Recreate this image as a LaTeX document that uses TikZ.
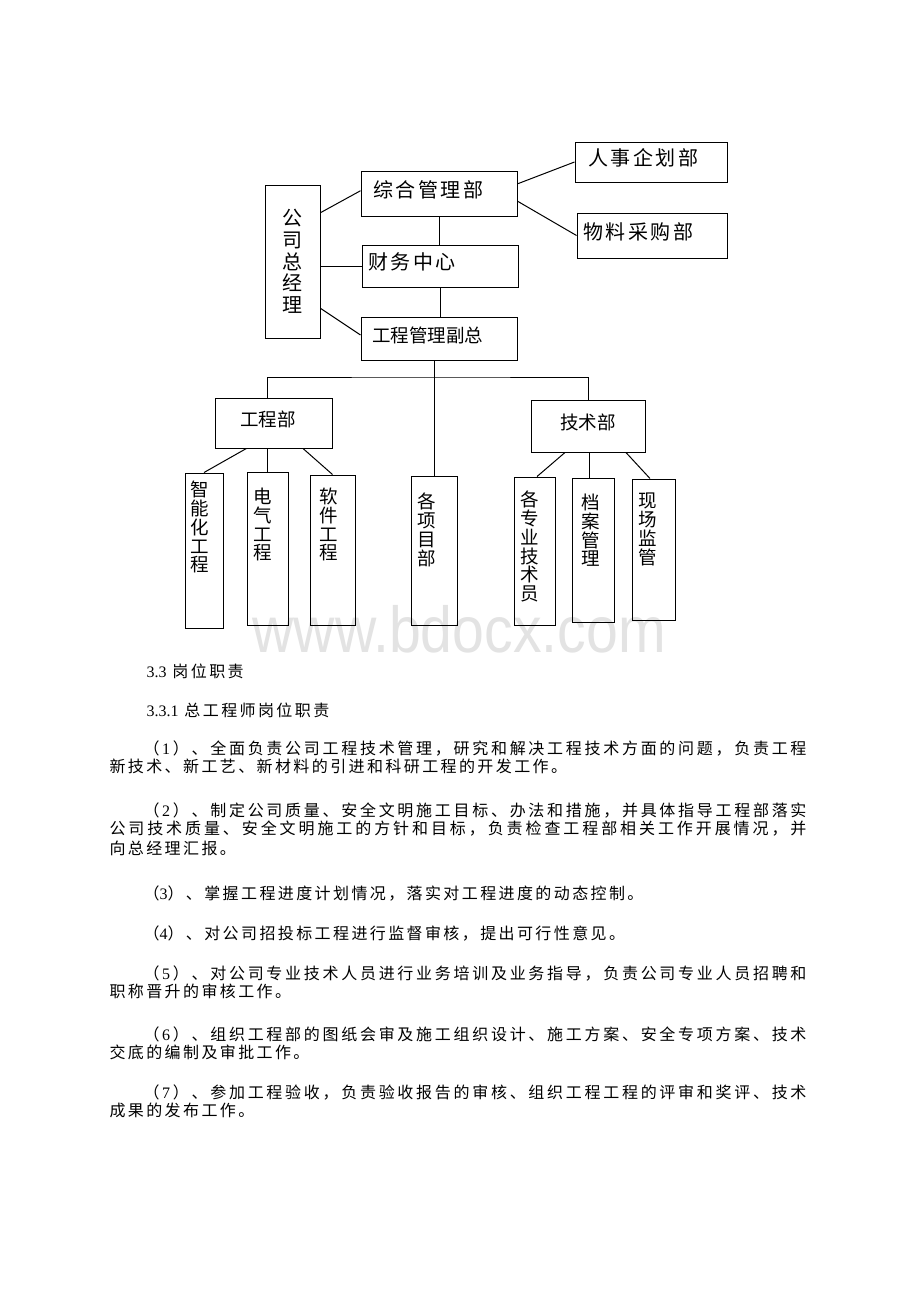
\documentclass[tikz,border=0pt]{standalone}
\usepackage{graphicx}
\usepackage{fontspec}
\setmainfont{Liberation Serif}
\newfontfamily\cjk{Noto Sans CJK SC}
\newfontfamily\cjkwide[LetterSpace=12.5]{Noto Sans CJK SC}
\newfontfamily\cjkbody[LetterSpace=15]{Noto Sans CJK SC}
\newfontfamily\wmfont{Liberation Sans}
\usetikzlibrary{calc,positioning}

% spread the characters of one line over a fixed width
\def\spreadchars#1{\spreadA#1\relax}
\def\spreadA#1{#1\futurelet\spnext\spreadB}
\def\spreadB{\ifx\spnext\relax\expandafter\spreadEnd\else\hfil\expandafter\spreadA\fi}
\def\spreadEnd\relax{}
\newcommand{\fullline}[2]{\hbox to #1{\spreadchars{#2}}}
\newcommand{\dg}[1]{{\rmfamily #1}}
\newcommand{\tightlines}{\lineskiplimit-50pt\relax}

\begin{document}
\begin{tikzpicture}[x=1pt, y=-1pt, line width=1pt,
    box/.style={draw, inner sep=0pt},
    wide/.style={font=\fontsize{20pt}{22pt}\selectfont\cjkwide, text height=14pt, text depth=7pt},
    plain/.style={font=\fontsize{18.5pt}{22pt}\selectfont\cjk, text height=14pt, text depth=7pt},
    vtext/.style={inner sep=0pt, align=center, font=\fontsize{18.5pt}{18.8pt}\selectfont\cjk\tightlines},
    body/.style={anchor=west, inner sep=0pt, font=\fontsize{16pt}{18pt}\selectfont\cjkbody}]

    \fill[white] (0,0) rectangle (920,1302);
    \useasboundingbox (0,0) rectangle (920,1302);

    % watermark
    \node[anchor=base west, inner sep=0pt, text=black!11, font=\fontsize{65pt}{65pt}\selectfont\wmfont] (mark) at (252,652) {\scalebox{0.88}[1]{www.bdocx.com}};

    % top of the chart
    \node[box, align=center, minimum width=55pt, minimum height=153pt, font=\fontsize{20pt}{21.75pt}\selectfont\cjk\tightlines] (zjl) at (292.5,261.5) {公\\司\\总\\经\\理};

    \node[box, wide, align=left, text width=132pt, inner xsep=12pt, minimum height=45pt] (zonghe) at (439,193.5) {综合管理部};
    \node[box, wide, align=left, text width=144pt, inner xsep=6pt, minimum height=42pt] (caiwu) at (440,266) {财务中心};
    \node[box, plain, align=left, text width=134pt, inner xsep=11pt, minimum height=43pt] (gcfz) at (439,338.5) {工程管理副总};
    \node[box, wide, align=left, text width=126pt, inner xsep=13pt, minimum height=40pt] (renshi) at (651,162) {人事企划部};
    \node[box, wide, align=left, text width=138pt, inner xsep=6pt, minimum height=45pt] (wuliao) at (652,235.5) {物料采购部};

    \node[box, plain, align=left, text width=67pt, inner xsep=25pt, minimum height=50pt] (gcb) at (273.5,423) {工程部};
    \node[box, plain, minimum width=114pt, minimum height=52pt] (jsb) at (588,426) {技术部};

    % bottom row
    \node[box, minimum width=38pt, minimum height=155pt] (zhineng) at (204,550.5) {};
    \node[vtext, below=8pt of zhineng.north, xshift=-4pt] (zhinengT) {智\\能\\化\\工\\程};
    \node[box, minimum width=41pt, minimum height=153pt] (dianqi) at (267.5,548.5) {};
    \node[vtext, below=16pt of dianqi.north, xshift=-4.5pt] (dianqiT) {电\\气\\工\\程};
    \node[box, minimum width=45pt, minimum height=150pt] (ruanjian) at (332.5,550) {};
    \node[vtext, below=13pt of ruanjian.north, xshift=-3.5pt] (ruanjianT) {软\\件\\工\\程};
    \node[box, minimum width=46pt, minimum height=149pt] (xiangmu) at (434,550.5) {};
    \node[vtext, below=17pt of xiangmu.north, xshift=-7pt] (xiangmuT) {各\\项\\目\\部};
    \node[box, minimum width=41pt, minimum height=148pt] (zhuanye) at (534.5,551) {};
    \node[vtext, below=14pt of zhuanye.north, xshift=-4.5pt] (zhuanyeT) {各\\专\\业\\技\\术\\员};
    \node[box, minimum width=42pt, minimum height=144pt] (dangan) at (593,550) {};
    \node[vtext, below=16pt of dangan.north, xshift=-2pt] (danganT) {档\\案\\管\\理};
    \node[box, minimum width=43pt, minimum height=141pt] (xianchang) at (653.5,549.5) {};
    \node[vtext, below=14pt of xianchang.north, xshift=-5.5pt] (xianchangT) {现\\场\\监\\管};

    % connectors
    \draw ($(zjl.north east)!0.183!(zjl.south east)$) -- ($(zonghe.north west)!0.44!(zonghe.south west)$);
    \draw (caiwu.west) -- (caiwu.west -| zjl.east);
    \draw ($(zjl.north east)!0.804!(zjl.south east)$) -- ($(gcfz.north west)!0.42!(gcfz.south west)$);
    \draw ($(zonghe.north east)!0.29!(zonghe.south east)$) -- (renshi.west);
    \draw ($(zonghe.north east)!0.667!(zonghe.south east)$) -- (wuliao.west);
    \draw (zonghe.south) -- (caiwu.north -| zonghe.south);
    \draw (caiwu.south) -- (gcfz.north -| caiwu.south);

    \coordinate (bus) at (434,377);
    \coordinate (gcbtop) at ($(gcb.north west)!0.45!(gcb.north east)$);
    \draw (xiangmu.north |- gcfz.south) -- (xiangmu.north);
    \draw (gcbtop) |- (bus) -| (jsb.north);

    \draw ($(gcb.south west)!0.27!(gcb.south east)$) -- (zhineng.north);
    \draw (dianqi.north) -- (dianqi.north |- gcb.south);
    \draw ($(gcb.south west)!0.75!(gcb.south east)$) -- (ruanjian.north);
    \draw ($(jsb.south west)!0.30!(jsb.south east)$) -- ($(zhuanye.north west)!0.56!(zhuanye.north east)$);
    \coordinate (dangantop) at ($(dangan.north west)!0.43!(dangan.north east)$);
    \draw (dangantop) -- (dangantop |- jsb.south);
    \draw ($(jsb.south west)!0.83!(jsb.south east)$) -- ($(xianchang.north west)!0.42!(xianchang.north east)$);

    % text below the chart
    \node[body] (h1) at (146,671) {\dg{3.3} 岗位职责};
    \node[body] (h2) at (146,710) {\dg{3.3.1} 总工程师岗位职责};

    \node[body] (p1a) at (143,748) {\fullline{663pt}{（{\dg1}）、全面负责公司工程技术管理，研究和解决工程技术方面的问题，负责工程}};
    \node[body] (p1b) at (109,766) {新技术、新工艺、新材料的引进和科研工程的开发工作。};

    \node[body] (p2a) at (143,810) {\fullline{663pt}{（{\dg2}）、制定公司质量、安全文明施工目标、办法和措施，并具体指导工程部落实}};
    \node[body] (p2b) at (109,829) {\fullline{697pt}{公司技术质量、安全文明施工的方针和目标，负责检查工程部相关工作开展情况，并}};
    \node[body] (p2c) at (109,848) {向总经理汇报。};

    \node[body] (p3) at (143,893) {（\dg{3}）、掌握工程进度计划情况，落实对工程进度的动态控制。};
    \node[body] (p4) at (143,933) {（\dg{4}）、对公司招投标工程进行监督审核，提出可行性意见。};

    \node[body] (p5a) at (143,973) {\fullline{663pt}{（{\dg5}）、对公司专业技术人员进行业务培训及业务指导，负责公司专业人员招聘和}};
    \node[body] (p5b) at (109,991) {职称晋升的审核工作。};

    \node[body] (p6a) at (143,1034) {\fullline{663pt}{（{\dg6}）、组织工程部的图纸会审及施工组织设计、施工方案、安全专项方案、技术}};
    \node[body] (p6b) at (109,1052) {交底的编制及审批工作。};

    \node[body] (p7a) at (143,1092) {\fullline{663pt}{（{\dg7}）、参加工程验收，负责验收报告的审核、组织工程工程的评审和奖评、技术}};
    \node[body] (p7b) at (109,1110) {成果的发布工作。};
\end{tikzpicture}
\end{document}
